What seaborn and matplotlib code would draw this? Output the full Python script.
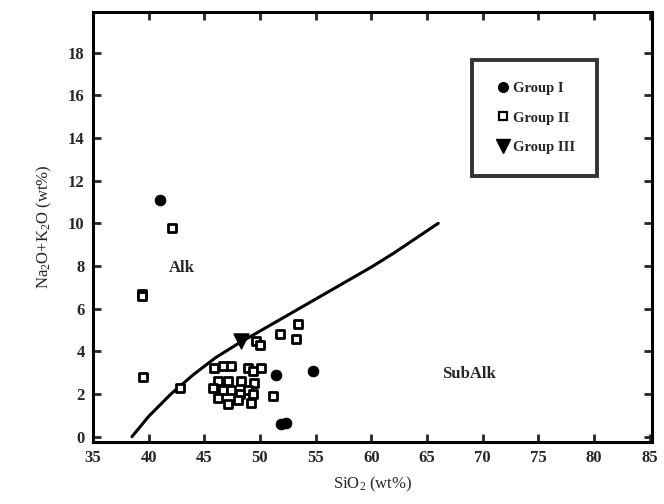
import numpy as np
import pandas as pd
import matplotlib
matplotlib.use("Agg")
import matplotlib.pyplot as plt
import seaborn as sns
from matplotlib.lines import Line2D

# ---- data ----
g1_sio2 = [41.0, 51.4, 54.8, 51.9, 52.3]
g1_alk = [11.1, 2.9, 3.1, 0.6, 0.65]

g2_sio2 = [42.1, 39.4, 39.4, 39.5, 42.8, 49.6, 50.0, 51.8, 53.2, 53.4, 51.2,
           45.9, 46.7, 47.4, 48.9, 49.4, 50.1,
           46.2, 47.1, 48.3, 49.5,
           45.75, 46.65, 47.4, 48.2, 48.9, 49.4,
           46.2, 47.1, 48.0, 49.2]
g2_alk = [9.8, 6.7, 6.6, 2.8, 2.3, 4.5, 4.3, 4.8, 4.6, 5.3, 1.9,
          3.2, 3.3, 3.3, 3.2, 3.1, 3.2,
          2.6, 2.6, 2.6, 2.5,
          2.3, 2.2, 2.2, 2.0, 2.2, 2.0,
          1.8, 1.55, 1.7, 1.6]

g3_sio2 = [48.3]
g3_alk = [4.5]

boundary_sio2 = [38.5, 40.0, 42.0, 44.0, 45.0, 46.0, 48.0, 50.0, 52.0, 54.0, 56.0, 58.0, 60.0, 62.0, 64.0, 66.0]
boundary_alk = [0.0, 0.95, 2.0, 2.9, 3.3, 3.7, 4.35, 4.95, 5.55, 6.15, 6.75, 7.35, 7.95, 8.6, 9.3, 10.0]

x_ticks = [35, 40, 45, 50, 55, 60, 65, 70, 75, 80, 85]
y_ticks = [0, 2, 4, 6, 8, 10, 12, 14, 16, 18]

sns.set_theme(style="ticks")
plt.rcParams['font.family'] = ['Liberation Serif', 'DejaVu Serif']
plt.rcParams['mathtext.fontset'] = 'custom'
plt.rcParams['mathtext.rm'] = 'Liberation Serif'
plt.rcParams['mathtext.it'] = 'Liberation Serif:italic'
plt.rcParams['mathtext.bf'] = 'Liberation Serif:bold'

fig = plt.figure(figsize=(6.64, 5.04), dpi=100)
ax = fig.add_axes([0.140, 0.123, 0.842, 0.853])

sns.lineplot(x=boundary_sio2, y=boundary_alk, sort=False, color="black", lw=2.2, ax=ax)

sns.scatterplot(x=g2_sio2, y=g2_alk, marker="s", s=40, facecolor="white",
                edgecolor="black", linewidth=2.0, ax=ax, zorder=3)
sns.scatterplot(x=g1_sio2, y=g1_alk, marker="o", s=60, color="black",
                edgecolor="black", ax=ax, zorder=4)
sns.scatterplot(x=g3_sio2, y=g3_alk, marker="v", s=120, color="black",
                edgecolor="black", ax=ax, zorder=4)

ax.set_xlim(35, 85.2)
ax.set_ylim(-0.25, 19.9)
ax.set_xticks(x_ticks)
ax.set_yticks(y_ticks)
ax.tick_params(direction="in", length=6, width=2, top=True, right=True,
               labelsize=12, pad=6)
for lab in ax.get_xticklabels() + ax.get_yticklabels():
    lab.set_fontweight("bold")
for sp in ax.spines.values():
    sp.set_linewidth(2.2)
    sp.set_visible(True)
    sp.set_color("black")

ax.set_xlabel("SiO$_\\mathrm{2}$ (wt%)", fontsize=12, labelpad=6)
ax.set_ylabel("Na$_\\mathrm{2}$O+K$_\\mathrm{2}$O (wt%)", fontsize=12, labelpad=10)

ax.text(43.0, 7.9, "Alk", fontsize=12, fontweight="bold", ha="center", va="center")
ax.text(68.8, 2.95, "SubAlk", fontsize=12, fontweight="bold", ha="center", va="center")

handles = [
    Line2D([], [], marker="o", ls="", color="black", markersize=7),
    Line2D([], [], marker="s", ls="", markerfacecolor="white", markeredgecolor="black",
           markeredgewidth=1.6, markersize=6),
    Line2D([], [], marker="v", ls="", color="black", markersize=10),
]
leg = ax.legend(handles, ["Group I", "Group II", "Group III"], loc="upper right",
                bbox_to_anchor=(0.915, 0.905), frameon=True, fancybox=False,
                handletextpad=0.1, handlelength=1.2,
                labelspacing=1.1, borderpad=1.5, prop={"weight": "bold", "size": 10.5})
leg.get_frame().set_edgecolor("black")
leg.get_frame().set_linewidth(2.8)

fig.savefig("out.png", dpi=100)
